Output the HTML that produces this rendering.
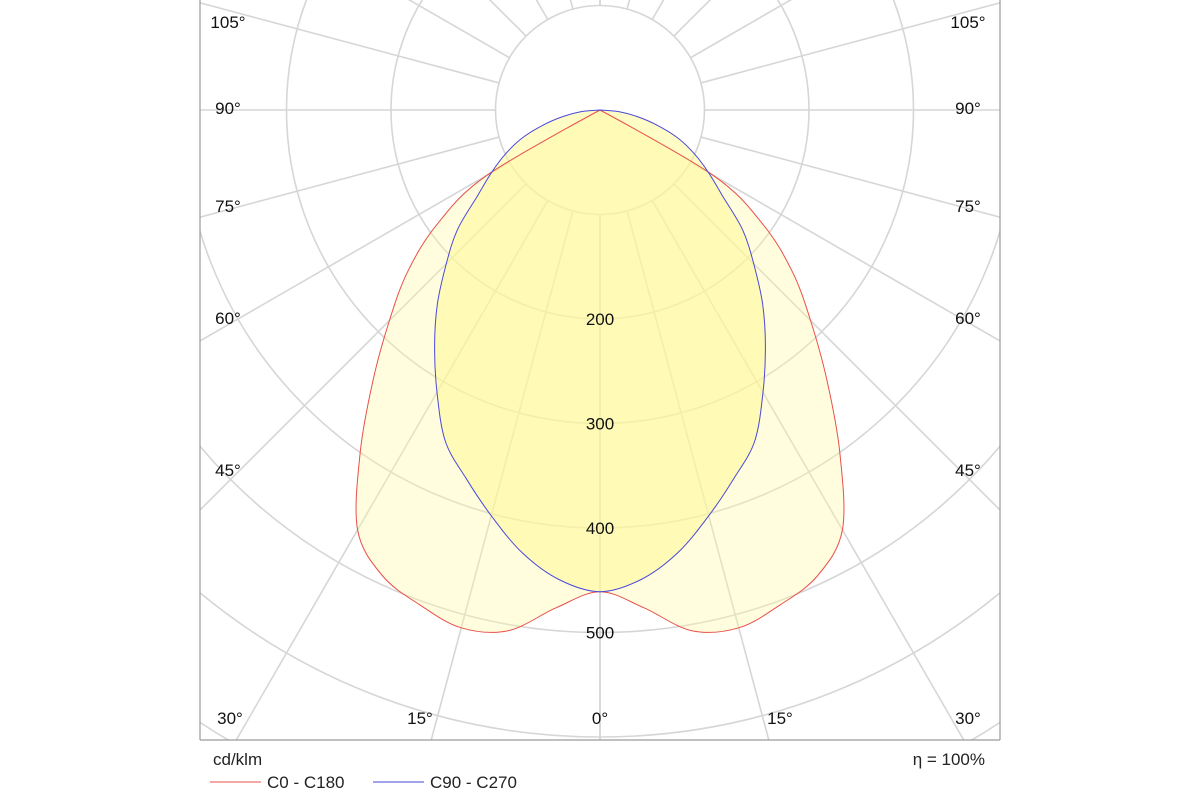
<!DOCTYPE html>
<html><head><meta charset="utf-8"><style>
html,body{margin:0;padding:0;background:#fff;width:1200px;height:800px;overflow:hidden}
svg{display:block;font-family:"Liberation Sans",sans-serif}
</style></head><body>
<svg id="chart" width="1200" height="800" viewBox="0 0 1200 800">
<defs><clipPath id="plotclip"><rect x="200" y="0" width="800" height="740"/></clipPath></defs>
<g id="grid" clip-path="url(#plotclip)"></g>
<g id="series" clip-path="url(#plotclip)"></g>
<g id="labels"></g>
<line x1="200" y1="0" x2="200" y2="740" stroke="#9a9a9a" stroke-width="1.2"/>
<line x1="1000" y1="0" x2="1000" y2="740" stroke="#9a9a9a" stroke-width="1.2"/>
<line x1="200" y1="740" x2="1000" y2="740" stroke="#9a9a9a" stroke-width="1.2"/>
<text x="213" y="765" font-size="17" fill="#222">cd/klm</text>
<text x="985" y="765" font-size="17" fill="#222" text-anchor="end">η = 100%</text>
<g>
<line x1="210" y1="782" x2="261" y2="782" stroke="#e8504a" stroke-width="1"/>
<text x="267" y="788" font-size="17" fill="#222">C0 - C180</text>
</g>
<g>
<line x1="373" y1="782" x2="424" y2="782" stroke="#4a4ad8" stroke-width="1"/>
<text x="430" y="788" font-size="17" fill="#222">C90 - C270</text>
</g>
</svg>
<script>
const ringValues = [100,200,300,400,500,600,700];
const ringLabels = ["200","300","400","500"];
const ringLabelValues = [200,300,400,500];
const spokeAngles = [0,15,30,45,60,75,90,105,120,135,150,165,180];
const angleLabels = ["0°","15°","30°","45°","60°","75°","90°","105°"];
const redAngles = [0,5,10,15,20,25,30,35,40,45,50,55,60,90];
const redValues = [461,478,506,513,504,492,464,400,338,285,240,190,125,0];
const blueAngles = [0,5,10,15,20,25,30,35,40,45,50,55,60,65,70,75,80,85,90];
const blueValues = [461,451,430,402,375,350,312,276,242,208,178,143,120,100,80,57,36,18,0];

const cx=600, cy=110, k=1.045;
const NS="http://www.w3.org/2000/svg";
function rScale(v){return v*k;}
function pt(angDeg,v,side){const a=angDeg*Math.PI/180;return [cx+side*rScale(v)*Math.sin(a), cy+rScale(v)*Math.cos(a)];}
function mk(tag,attrs,parent){const e=document.createElementNS(NS,tag);for(const key in attrs)e.setAttribute(key,attrs[key]);parent.appendChild(e);return e;}
const grid=document.getElementById('grid'), series=document.getElementById('series'), labels=document.getElementById('labels');

ringValues.forEach(v=>{
  const c=mk('circle',{cx:cx,cy:cy,r:rScale(v),fill:'none',stroke:'#d6d6d6','stroke-width':1.6},grid);
  
  
});
spokeAngles.forEach(a=>{
  [1,-1].forEach(s=>{
    const p0=pt(a,ringValues[0],s), p1=pt(a,1000,s);
    const l=mk('line',{x1:p0[0],y1:p0[1],x2:p1[0],y2:p1[1],stroke:'#d6d6d6','stroke-width':1.6},grid);
    
    
  });
});

function curvePath(angles,vals){
  const right=angles.map((a,i)=>pt(a,vals[i],1));
  const left=angles.slice(1,-1).map((a,i)=>pt(a,vals[i+1],-1)).reverse();
  const P=right.concat(left); // closed loop
  const n=P.length;
  let d='M'+P[0][0].toFixed(1)+','+P[0][1].toFixed(1);
  for(let i=0;i<n;i++){
    const p0=P[(i-1+n)%n],p1=P[i],p2=P[(i+1)%n],p3=P[(i+2)%n];
    // keep tip at centre sharp
    const t1=(p1[0]===cx&&p1[1]===cy)?0:1/6, t2=(p2[0]===cx&&p2[1]===cy)?0:1/6;
    const c1=[p1[0]+(p2[0]-p0[0])*t1,p1[1]+(p2[1]-p0[1])*t1];
    const c2=[p2[0]-(p3[0]-p1[0])*t2,p2[1]-(p3[1]-p1[1])*t2];
    d+='C'+c1[0].toFixed(1)+','+c1[1].toFixed(1)+' '+c2[0].toFixed(1)+','+c2[1].toFixed(1)+' '+p2[0].toFixed(1)+','+p2[1].toFixed(1);
  }
  return d+'Z';
}
const redFill=mk('path',{d:curvePath(redAngles,redValues),fill:'rgba(255,250,160,0.35)',stroke:'none'},series);


const blueFill=mk('path',{d:curvePath(blueAngles,blueValues),fill:'rgba(255,250,150,0.55)',stroke:'none'},series);


const redLine=mk('path',{d:curvePath(redAngles,redValues),fill:'none',stroke:'#e8504a','stroke-width':1},series);


const blueLine=mk('path',{d:curvePath(blueAngles,blueValues),fill:'none',stroke:'#4a4ad8','stroke-width':1},series);



ringLabelValues.forEach((v,i)=>{
  const t=mk('text',{x:cx,y:cy+rScale(v)+6,'font-size':17,'text-anchor':'middle',fill:'#111'},labels);
  t.textContent=ringLabels[i];
  
  
});

const sideLabelY={"105°":22,"90°":108,"75°":206,"60°":318,"45°":470};
angleLabels.forEach(lbl=>{
  if(sideLabelY[lbl]!==undefined){
    [[228,'left'],[968,'right']].forEach(([x,side])=>{
      const t=mk('text',{x:x,y:sideLabelY[lbl]+6,'font-size':17,'text-anchor':'middle',fill:'#111'},labels);
      t.textContent=lbl;
      
      
    });
  }
});
const bottomLabels=[["30°",230],["15°",420],["0°",600],["15°",780],["30°",968]];
bottomLabels.forEach(([lbl,x])=>{
  const t=mk('text',{x:x,y:724,'font-size':17,'text-anchor':'middle',fill:'#111'},labels);
  t.textContent=lbl;
  
  
});
</script>
</body></html>
